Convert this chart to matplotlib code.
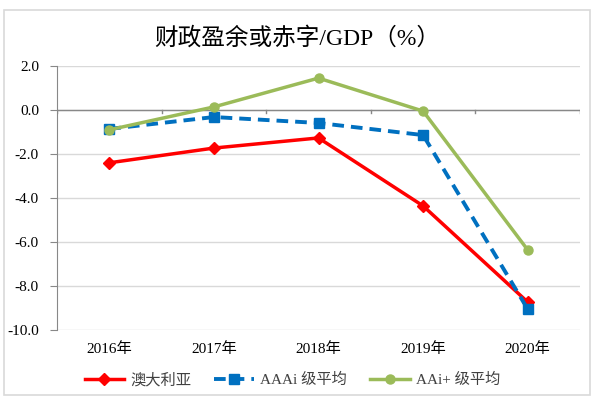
import matplotlib.pyplot as plt
from matplotlib.patches import Rectangle

plt.rcParams['font.family'] = ['Liberation Serif', 'Noto Sans CJK SC']

years = ['2016年', '2017年', '2018年', '2019年', '2020年']
australia = [-2.4, -1.73, -1.27, -4.36, -8.73]
aaa_avg = [-0.86, -0.32, -0.59, -1.14, -9.05]
aa_plus_avg = [-0.9, 0.14, 1.45, -0.05, -6.36]

fig = plt.figure(figsize=(5.95, 4.01), dpi=100)
ax = fig.add_axes([57 / 595, 1 - 330 / 401, (580 - 57) / 595, 264 / 401])

# light frame around the whole chart
fig.patches.append(Rectangle((4 / 595, 6 / 401), 586 / 595, 385 / 401,
                             transform=fig.transFigure, fill=False,
                             edgecolor='#d9d9d9', linewidth=1.2))

x = list(range(len(years)))
ax.plot(x, australia, color='#ff0000', lw=2.5, marker='D', ms=6, label='澳大利亚', zorder=3)
ax.plot(x, aaa_avg, color='#0070c0', lw=2.8, ls=(0, (3, 1.8)), marker='s', ms=6.5, label='AAAi 级平均', zorder=3)
ax.plot(x, aa_plus_avg, color='#9bbb59', lw=2.5, marker='o', ms=6.5, label='AAi+ 级平均', zorder=3)

ax.set_xlim(-0.5, 4.5)
ax.set_ylim(-10, 2)
ax.set_yticks(range(-10, 3, 2))
ax.set_yticklabels([f'{v:.1f}' for v in range(-10, 3, 2)], fontsize=11)
ax.yaxis.grid(True, color='#d9d9d9', lw=1)
ax.set_axisbelow(True)

# x axis sits at zero, labels along the bottom
ax.set_xticks([])
ax.axhline(0, color='#888888', lw=1, zorder=1)
for b in [-0.5, 0.5, 1.5, 2.5, 3.5, 4.5]:
    ax.plot([b, b], [0, -0.15], color='#888888', lw=1, zorder=1)
for i, lab in enumerate(years):
    ax.text(i, -10.55, lab, ha='center', va='top', fontsize=11)

for s in ['top', 'right', 'bottom']:
    ax.spines[s].set_visible(False)
ax.spines['left'].set_color('#888888')
ax.tick_params(axis='y', length=5, color='#888888', pad=8)

fig.text(0.5, 1 - 38 / 401, '财政盈余或赤字/GDP（%）', ha='center', va='center',
         fontsize=17)

leg = ax.legend(loc='upper center', bbox_to_anchor=(0.45, -0.11), ncol=3, frameon=False,
                fontsize=11, handlelength=2.6, columnspacing=1.5, handletextpad=0.4)
for t in leg.get_texts():
    t.set_color('#404040')

fig.savefig('out.png', dpi=100)
